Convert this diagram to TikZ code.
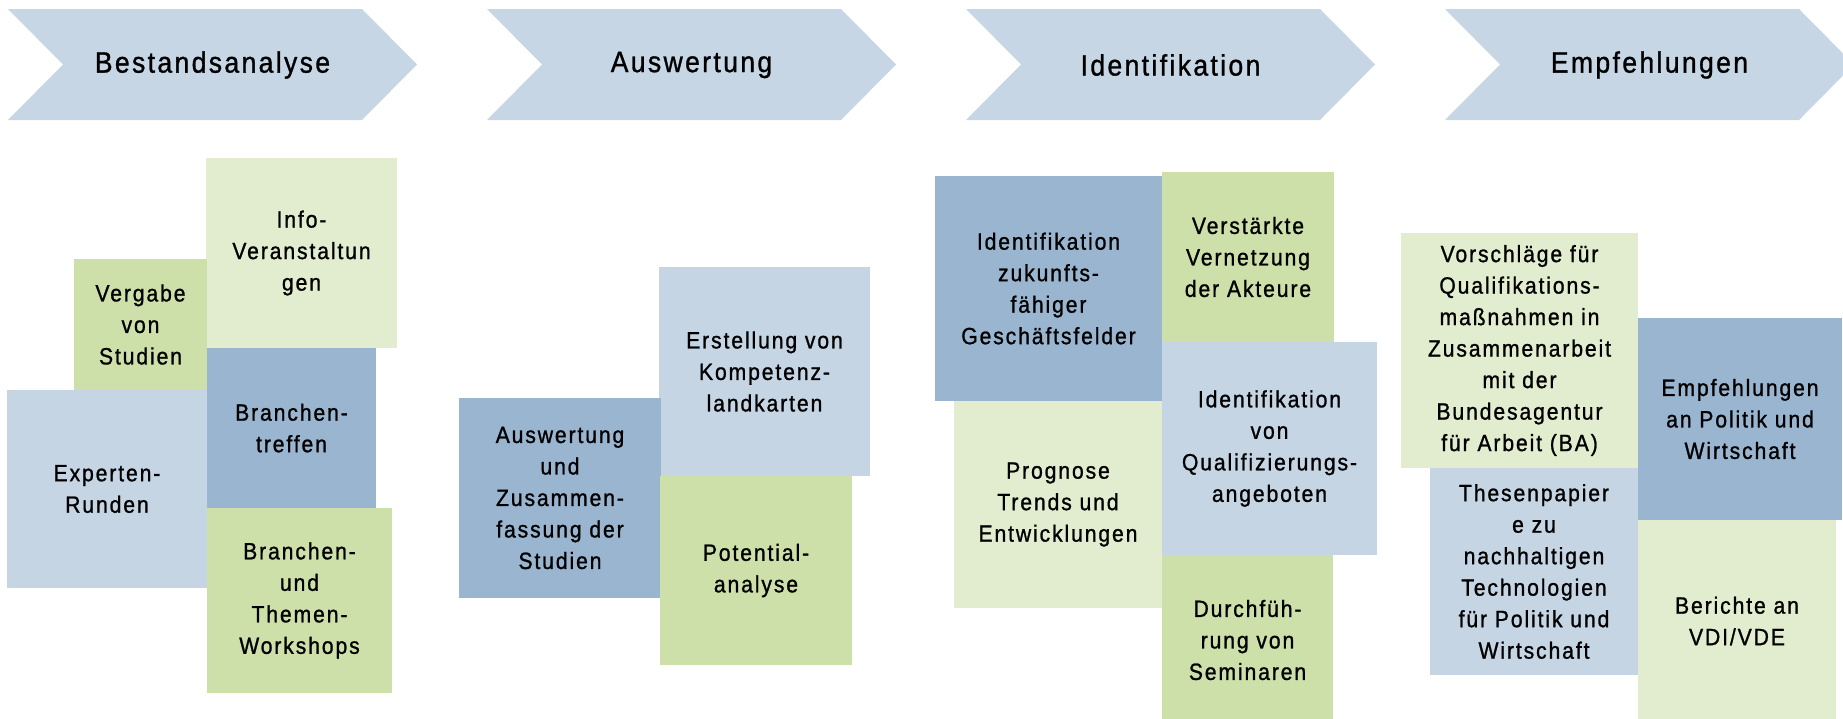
\documentclass[tikz,border=0pt]{standalone}
\usepackage{fontspec}
\setmainfont{Liberation Sans}[FakeStretch=0.9, LetterSpace=8, FakeBold=1]
\definecolor{lb}{RGB}{197,213,228}
\definecolor{mb}{RGB}{154,181,207}
\definecolor{gr}{RGB}{205,224,169}
\definecolor{lg}{RGB}{226,236,207}
\definecolor{chevc}{RGB}{198,214,229}
\tikzset{
  box/.style 2 args={inner sep=0pt, outer sep=0pt, align=center, anchor=north west,
    minimum width=#1pt, minimum height=#2pt, font=\fontsize{23.5}{31.5}\selectfont},
  chev/.style={fill=chevc, draw=none},
  chevtext/.style={inner sep=0pt, font=\fontsize{29.5}{32}\selectfont}
}
\begin{document}
\begin{tikzpicture}[x=1pt, y=-1pt]
\useasboundingbox (0,0) rectangle (1843,718);
\clip (0,0) rectangle (1843,718);
% chevrons
\foreach \x/\name/\txt in {8/h1/Bestandsanalyse, 487/h2/Auswertung, 966/h3/Identifikation, 1445/h4/Empfehlungen}{
  \fill[chev] (\x,9) -- ++(354,0) -- ++(55,55.5) -- ++(-55,55.5) -- ++(-354,0) -- ++(55,-55.5) -- cycle;
  \node[chevtext] (\name) at (\x+204.5,65) {\txt};
}
% column 1
\node[box={191}{190}, fill=lg] (info) at (206,158) {Info-\\Veranstaltun\\gen};
\node[box={133}{131}, fill=gr] (vergabe) at (74,259) {Vergabe\\von\\Studien};
\node[box={200}{198}, fill=lb] (experten) at (7,390) {Experten-\\Runden};
\node[box={169}{160}, fill=mb] (btreffen) at (207,348) {Branchen-\\treffen};
\node[box={185}{185}, fill=gr] (workshops) at (207,508) {Branchen-\\und\\Themen-\\Workshops};
% column 2
\node[box={211}{209}, fill=lb] (erstellung) at (659,267) {Erstellung von\\Kompetenz-\\landkarten};
\node[box={202}{200}, fill=mb] (auswertung) at (459,398) {Auswertung\\und\\Zusammen-\\fassung der\\Studien};
\node[box={192}{189}, fill=gr] (potential) at (660,476) {Potential-\\analyse};
% column 3
\node[box={227}{225}, fill=mb] (identz) at (935,176) {Identifikation\\zukunfts-\\fähiger\\Geschäftsfelder};
\node[box={172}{170}, fill=gr] (verstaerkt) at (1162,172) {Verstärkte\\Vernetzung\\der Akteure};
\node[box={208}{207}, fill=lg] (prognose) at (954,401) {Prognose\\Trends und\\Entwicklungen};
\node[box={215}{213}, fill=lb] (identq) at (1162,342) {Identifikation\\von\\Qualifizierungs-\\angeboten};
\node[box={171}{170}, fill=gr] (durch) at (1162,555) {Durchfüh-\\rung von\\Seminaren};
% column 4
\node[box={237}{235}, fill=lg] (vorschlaege) at (1401,233) {Vorschläge für\\Qualifikations-\\maßnahmen in\\Zusammenarbeit\\mit der\\Bundesagentur\\für Arbeit (BA)};
\node[box={204}{202}, fill=mb] (empf) at (1638,318) {Empfehlungen\\an Politik und\\Wirtschaft};
\node[box={208}{207}, fill=lb] (thesen) at (1430,468) {Thesenpapier\\e zu\\nachhaltigen\\Technologien\\für Politik und\\Wirtschaft};
\node[box={198}{202}, fill=lg] (berichte) at (1638,520) {Berichte an\\VDI/VDE};
\end{tikzpicture}
\end{document}
